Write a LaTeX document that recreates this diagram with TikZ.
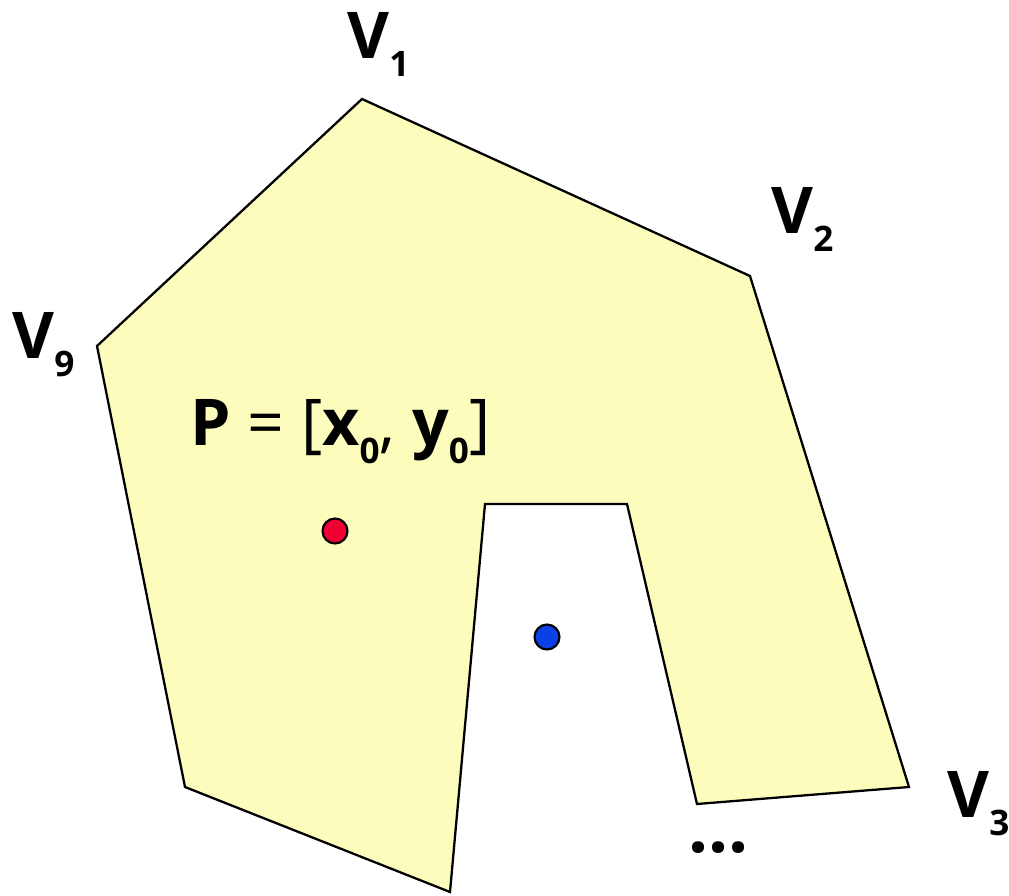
\documentclass[tikz,border=0pt]{standalone}
\usepackage{fontspec}
\setmainfont{Open Sans}
\definecolor{polyfill}{RGB}{252,252,188}
\definecolor{ptred}{RGB}{240,0,50}
\definecolor{ptblue}{RGB}{10,64,230}
\newcommand{\subnum}[1]{\raisebox{-0.28em}{\fontsize{20pt}{22pt}\selectfont\bfseries #1}}
\begin{document}
\begin{tikzpicture}[
	x=0.02cm, y=-0.02cm,
	edge/.style={ line width=1.3pt, line join=miter },
	vlabel/.style={ inner sep=0pt, anchor=base west, font=\fontsize{36.7pt}{40pt}\selectfont\bfseries },
	point/.style={ circle, draw, line width=1.2pt, inner sep=0pt, minimum size=0.5cm }
]
\useasboundingbox (0,0) rectangle (1009,896);

\coordinate (v1) at (362,99);
\coordinate (v2) at (750,276);
\coordinate (v3) at (909,787);
\coordinate (v4) at (697,804);
\coordinate (v5) at (627,504);
\coordinate (v6) at (485,504);
\coordinate (v7) at (450,892);
\coordinate (v8) at (185,787);
\coordinate (v9) at (97,346);
\draw[edge, fill=polyfill] (v1) -- (v2) -- (v3) -- (v4) -- (v5) -- (v6) -- (v7) -- (v8) -- (v9) -- cycle;

\node[vlabel] at (347,58) (l1) {V\subnum{1}};
\node[vlabel] at (771,233) (l2) {V\subnum{2}};
\node[vlabel] at (947,817) (l3) {V\subnum{3}};
\node[vlabel] at (12,358) (l9) {V\subnum{9}};
\node[vlabel] at (190,445) (lp) {P {\mdseries= [}x\subnum{0}{\mdseries,} y\subnum{0}{\mdseries]}};
\node[vlabel, font=\fontsize{40pt}{44pt}\selectfont\bfseries] at (688,852) (dots) {…};

\node[point, fill=ptred] at (335,531) (p) {};
\node[point, fill=ptblue] at (547,637) (q) {};

\end{tikzpicture}
\end{document}
